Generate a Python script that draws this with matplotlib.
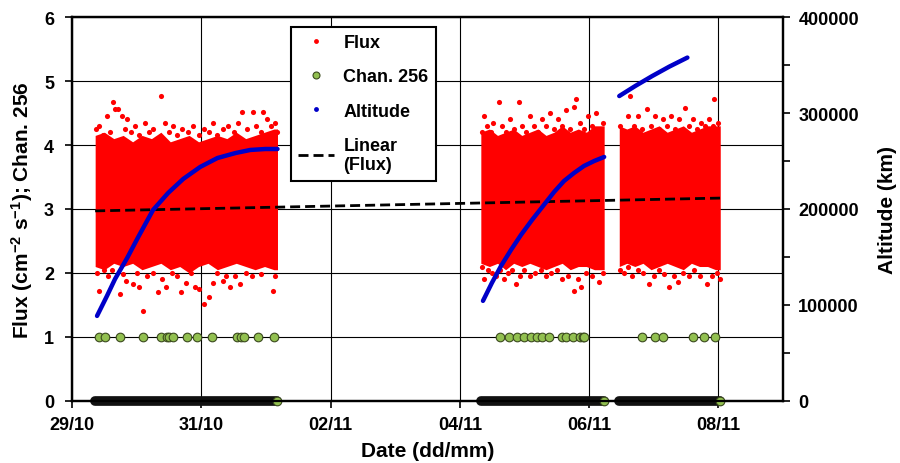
import matplotlib
matplotlib.use('Agg')
import matplotlib.pyplot as plt
from matplotlib.lines import Line2D
from matplotlib.ticker import MultipleLocator
import pandas as pd

plt.rcParams['font.family'] = ['Liberation Sans', 'DejaVu Sans']
plt.rcParams['font.weight'] = 'bold'
plt.rcParams['axes.labelweight'] = 'bold'
plt.rcParams['mathtext.fontset'] = 'custom'
plt.rcParams['mathtext.rm'] = 'Liberation Sans:bold'
plt.rcParams['mathtext.it'] = 'Liberation Sans:bold'
plt.rcParams['mathtext.bf'] = 'Liberation Sans:bold'

# ---- data (times in hours after 29/10 00:00) ----
T0 = pd.Timestamp('2014-10-29')
x_end_h = 264
tick_labels = ['29/10', '31/10', '02/11', '04/11', '06/11', '08/11']
tick_hours = [0, 48, 96, 144, 192, 240]

# flux passes: start/end of each pass
pass_start_h = [8.6, 151.8, 203.2]
pass_end_h = [76.3, 197.6, 240.7]

# dense core of the flux cloud: ragged upper / lower edges per pass
edge_h = [
    [8.6, 12, 15.5, 19, 22.5, 26, 29.5, 33, 36.5, 40, 43.5, 47, 50.5, 54, 57.5, 61, 64.5,
     68, 71.5, 75, 76.3],
    [151.8, 155, 158, 161, 164, 167, 170, 173, 176, 179, 182, 185, 188, 191, 194, 197.6],
    [203.2, 206, 209, 212, 215, 218, 221, 224, 227, 230, 233, 236, 239, 240.7],
]
edge_hi = [
    [4.15, 4.2, 4.1, 4.15, 4.05, 4.15, 4.1, 4.2, 4.05, 4.1, 4.15, 4.05, 4.1, 4.15, 4.1, 4.2,
     4.1, 4.15, 4.2, 4.25, 4.25],
    [4.2, 4.25, 4.15, 4.2, 4.25, 4.15, 4.2, 4.25, 4.15, 4.2, 4.3, 4.2, 4.25, 4.2, 4.3, 4.3],
    [4.3, 4.25, 4.3, 4.2, 4.25, 4.3, 4.2, 4.25, 4.3, 4.2, 4.25, 4.3, 4.3, 4.3],
]
edge_lo = [
    [2.1, 2.05, 2.15, 2.1, 2.15, 2.05, 2.1, 2.15, 2.05, 2.1, 2.0, 2.1, 2.15, 2.05, 2.1, 2.15,
     2.1, 2.05, 2.1, 2.05, 2.05],
    [2.15, 2.1, 2.15, 2.05, 2.15, 2.1, 2.15, 2.1, 2.05, 2.1, 2.15, 2.05, 2.1, 2.1, 2.05, 2.05],
    [2.1, 2.15, 2.1, 2.15, 2.05, 2.1, 2.15, 2.1, 2.05, 2.15, 2.1, 2.1, 2.05, 2.05],
]

# flux points outside the dense core
fringe_h = [
    9, 10, 11.5, 13, 14, 15.3, 16, 17.1, 18.6, 19.5, 20.5, 22, 23.5, 25, 27, 28.5, 30,
    31.5, 33.1, 34.6, 36, 37.5, 39, 41, 43, 45, 47, 49, 51, 52.5, 54, 56, 58, 60, 61.5,
    63.3, 65, 67.3, 68.5, 70, 71.1, 72.5, 74, 75.5, 76,
    9.3, 10, 12, 13.5, 15, 18, 19, 20, 22.5, 24, 25, 26.5, 28, 30, 32, 33.5, 35, 37, 39,
    40.5, 42.5, 44, 45.5, 47, 49, 51, 52.5, 54, 56, 57, 58.5, 60.5, 62.5, 64.5, 67, 70,
    74.5, 75.5,
    152.3, 153, 154, 155.5, 156.5, 158.5, 159.5, 161, 162.5, 164, 165.9, 167, 168.5, 170,
    171.5, 173, 174.5, 176, 177.5, 179, 180.5, 182, 183.5, 185, 186.5, 187.1, 188.5, 190,
    191.5, 193, 194.5, 196, 197.2,
    152.3, 152.9, 154.5, 156, 157.5, 159, 160.3, 162, 163.5, 164.8, 166.5, 168, 170, 172,
    174, 176, 178, 180, 182, 184, 186.4, 188, 189, 191, 193, 195.7, 197,
    203.5, 205, 206.5, 207.2, 208.5, 210, 211.5, 213.5, 215, 216.5, 218, 219.5, 221, 222.5,
    224, 225.5, 227.7, 229, 230.5, 232, 233.5, 235, 236.5, 238, 238.5, 240,
    203.5, 205, 206.5, 208, 210, 212, 214.3, 216, 218, 220, 221.7, 223.5, 225.1, 227, 229,
    231, 233, 235.8, 237.5, 239.5, 240.5,
]
fringe_flux = [
    4.25, 4.3, 4.15, 4.45, 4.2, 4.67, 4.56, 4.56, 4.45, 4.25, 4.4, 4.2, 4.3, 4.15, 4.35, 4.2, 4.25,
    4.1, 4.77, 4.34, 4.2, 4.3, 4.15, 4.25, 4.2, 4.3, 4.15, 4.25, 4.2, 4.34, 4.15, 4.25, 4.3, 4.2, 4.35,
    4.52, 4.25, 4.52, 4.3, 4.2, 4.52, 4.4, 4.3, 4.35, 4.2,
    2.0, 1.72, 2.05, 1.95, 2.05, 1.67, 1.98, 1.87, 1.83, 2.0, 1.78, 1.4, 1.95, 2.0, 1.7, 1.9, 1.78, 2.0, 1.95,
    1.7, 1.85, 2.0, 1.78, 1.75, 1.52, 1.62, 1.85, 2.0, 1.87, 1.95, 1.78, 1.95, 1.83, 2.0, 1.95, 1.98,
    1.72, 1.95,
    4.2, 4.45, 4.3, 4.2, 4.35, 4.67, 4.3, 4.2, 4.4, 4.25, 4.67, 4.3, 4.2, 4.45,
    4.3, 4.2, 4.4, 4.3, 4.5, 4.25, 4.4, 4.3, 4.55, 4.25, 4.6, 4.72, 4.35, 4.25,
    4.45, 4.3, 4.5, 4.25, 4.35,
    2.1, 1.9, 2.05, 2.0, 1.95, 2.05, 1.9, 2.0, 2.05, 1.83, 1.95, 2.05, 1.95, 2.0,
    2.05, 1.95, 2.0, 2.05, 1.9, 1.95, 1.72, 1.9, 1.78, 2.0, 1.95, 1.86, 2.0,
    4.3, 4.2, 4.45, 4.77, 4.3, 4.45, 4.25, 4.56, 4.3, 4.45, 4.25, 4.4, 4.3, 4.45,
    4.25, 4.4, 4.58, 4.3, 4.4, 4.25, 4.35, 4.3, 4.4, 4.3, 4.72, 4.35,
    2.05, 2.0, 2.1, 1.95, 2.05, 2.0, 1.83, 1.95, 2.05, 1.98, 1.78, 1.95, 1.86, 2.0, 1.95,
    2.05, 1.95, 1.83, 1.95, 2.0, 1.9,
]

# Chan. 256 non-zero counts (value 1)
chan_one_h = [10.0, 12.3, 17.9, 26.4, 33.1, 35.3, 36.1, 37.6, 42.8, 46.5, 52.1, 61.4, 62.9,
              64.0, 69.2, 75.1,
              158.8, 162.2, 165.2, 167.8, 170.4, 172.6, 174.5, 177.1, 181.9, 183.4, 186.0,
              188.6, 189.7, 190.1,
              211.7, 216.5, 219.5, 230.6, 234.7, 238.8]

# altitude (km)
alt_h = [
    [9.3, 13.0, 16.0, 20.5, 24.6, 30.1, 35.7, 41.3, 47.6, 54.0, 60.7, 66.2, 71.8, 76.3],
    [152.6, 155.9, 159.3, 163.0, 166.7, 170.8, 174.9, 179.0, 182.7, 186.4, 190.1, 193.9, 197.6],
    [203.2, 209.1, 215.4, 221.8, 228.5],
]
alt_km = [
    [88500, 109400, 127100, 149000, 170800, 199000, 216700, 231300, 243800, 253100, 258300,
     261500, 262500, 262500],
    [104200, 122900, 140600, 157300, 172900, 188500, 203100, 217700, 229200, 237500, 244800,
     250000, 254200],
    [317700, 328100, 338500, 348400, 357800],
]

# linear fit of flux
trend_h = [8.6, 240.7]
trend_flux = [2.97, 3.17]


def when(hours):
    return T0 + pd.to_timedelta(hours, unit='h')


fig = plt.figure(figsize=(9, 4.64), dpi=100)
ax = fig.add_axes([0.08, 0.134, 0.79, 0.827])
ax2 = ax.twinx()

# flux cloud
for h, hi, lo in zip(edge_h, edge_hi, edge_lo):
    ax.fill_between(when(h), lo, hi, color='red', lw=0, zorder=2)
ax.plot(when(fringe_h), fringe_flux, 'o', ms=3.7, color='red', mec='none', zorder=2)

# Chan. 256
for s, e in zip(pass_start_h, pass_end_h):
    ax.plot(when([s, e]), [0, 0], color='#111111', lw=7, solid_capstyle='round',
            clip_on=False, zorder=4)
ax.plot(when(pass_end_h), [0] * len(pass_end_h), 'o', ms=6.2, mfc='#92c050', mec='#3b4a1e',
        mew=0.8, clip_on=False, zorder=5)
ax.plot(when(chan_one_h), [1] * len(chan_one_h), 'o', ms=6.2, mfc='#92c050', mec='#3b4a1e',
        mew=0.8, zorder=5)

# trend
ax.plot(when(trend_h), trend_flux, color='black', lw=2, dashes=(3.6, 1.8), zorder=6)

# altitude
for h, a in zip(alt_h, alt_km):
    ax2.plot(when(h), a, color='#0000c8', lw=3.2, solid_capstyle='round', zorder=3)

# axes styling
ax.set_xlim(when([0, x_end_h]))
ax.set_ylim(0, 6)
ax.set_xticks(when(tick_hours))
ax.set_xticklabels(tick_labels)
ax.yaxis.set_major_locator(MultipleLocator(1))
ax.grid(True, color='black', lw=0.8)
ax.set_axisbelow(True)

ax2.set_ylim(0, 400000)
ax2.yaxis.set_major_locator(MultipleLocator(100000))
ax2.yaxis.set_minor_locator(MultipleLocator(50000))

for a in (ax, ax2):
    for sp in a.spines.values():
        sp.set_linewidth(1.6)
        sp.set_color('black')
ax.tick_params(axis='x', direction='out', length=5, width=1.2, labelsize=13, pad=6)
ax.tick_params(axis='y', direction='out', length=5, width=1.2, labelsize=13, pad=8)
ax2.tick_params(axis='y', which='both', direction='out', length=5, width=1.2, labelsize=13, pad=6)

ax.set_xlabel('Date (dd/mm)', fontsize=15, labelpad=6)
ax.set_ylabel(r'Flux (cm$^{-2}$ s$^{-1}$); Chan. 256', fontsize=15, labelpad=6)
ax2.set_ylabel('Altitude (km)', fontsize=15, labelpad=14)

handles = [
    Line2D([], [], ls='none', marker='o', ms=3.5, color='red', mec='none'),
    Line2D([], [], ls='none', marker='o', ms=5, mfc='#92c050', mec='#3b4a1e', mew=0.8),
    Line2D([], [], ls='none', marker='o', ms=3.5, color='#0000c8', mec='none'),
    Line2D([], [], color='black', lw=2, dashes=(3.6, 1.8)),
]
labels = ['Flux', 'Chan. 256', 'Altitude', 'Linear\n(Flux)']
leg = ax2.legend(handles, labels, loc='upper left', bbox_to_anchor=(0.308, 0.974),
                 borderaxespad=0, fontsize=13, frameon=True, fancybox=False,
                 edgecolor='black', framealpha=1, borderpad=0.4, handlelength=2.0,
                 handletextpad=0.5, labelspacing=0.95)
leg.get_frame().set_linewidth(1.5)
leg.set_zorder(20)

fig.savefig('out.png', dpi=100)
